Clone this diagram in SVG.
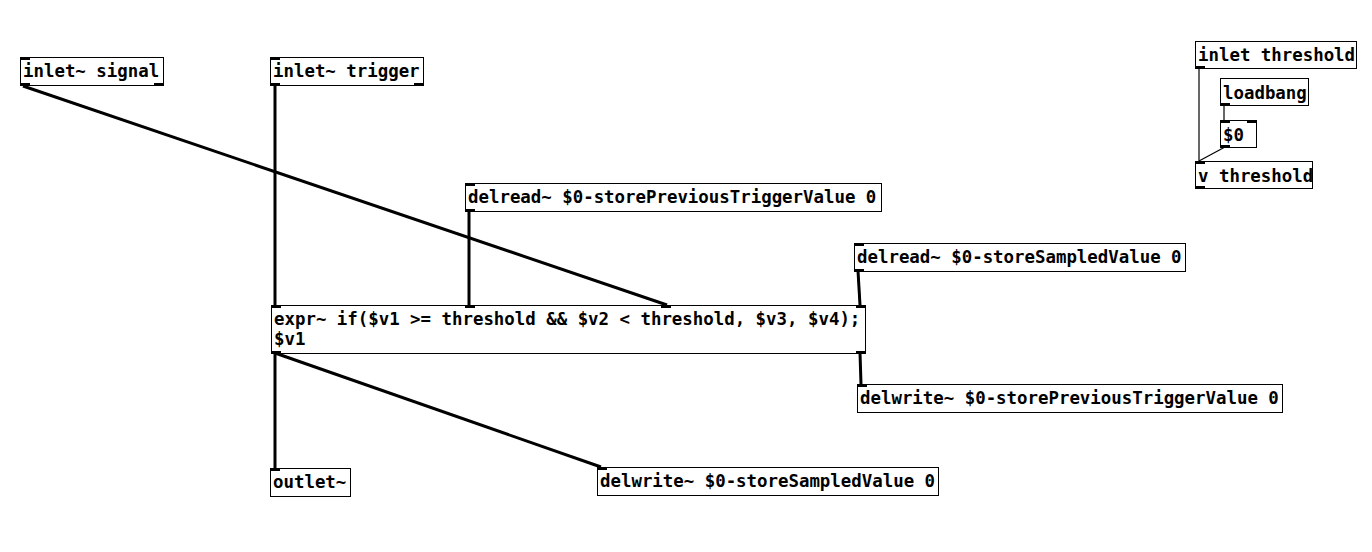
<svg xmlns="http://www.w3.org/2000/svg" width="1372" height="552" viewBox="0 0 1372 552">
<style>
.box{fill:#fff;stroke:#000;stroke-width:1}
.t{font-family:"DejaVu Sans Mono",monospace;font-weight:bold;font-size:17.4px;fill:#000}
.io{fill:#000}
.sig{stroke:#000;stroke-width:3;fill:none}
.ctl{stroke:#000;stroke-width:1.2;fill:none}
</style>
<rect width="1372" height="552" fill="#fff"/>
<g id="connectors">
<line class="sig" x1="23" y1="86" x2="667" y2="305"/>
<line class="sig" x1="275" y1="86" x2="275" y2="305"/>
<line class="sig" x1="469" y1="211" x2="469" y2="305"/>
<line class="sig" x1="858" y1="271" x2="860" y2="305"/>
<line class="sig" x1="275" y1="353" x2="275" y2="468"/>
<line class="sig" x1="275" y1="353" x2="601" y2="467"/>
<line class="sig" x1="860" y1="353" x2="861" y2="384"/>
<line class="ctl" x1="1199" y1="68" x2="1199" y2="161"/>
<line class="ctl" x1="1224" y1="105" x2="1224" y2="120"/>
<line class="ctl" x1="1225" y1="147" x2="1199" y2="161"/>
</g>
<g id="inlet_signal">
<rect class="box" x="20.5" y="57.5" width="143" height="28"/>
<rect class="io" x="20" y="57" width="10" height="3"/>
<rect class="io" x="20" y="83" width="10" height="3"/>
<rect class="io" x="154" y="83" width="10" height="3"/>
<text class="t" x="23" y="77">inlet~ signal</text>
</g>
<g id="inlet_trigger">
<rect class="box" x="270.5" y="57.5" width="153" height="28"/>
<rect class="io" x="270" y="57" width="10" height="3"/>
<rect class="io" x="270" y="83" width="10" height="3"/>
<rect class="io" x="414" y="83" width="10" height="3"/>
<text class="t" x="273" y="77">inlet~ trigger</text>
</g>
<g id="inlet_threshold">
<rect class="box" x="1195.5" y="41.5" width="161" height="27"/>
<rect class="io" x="1195" y="66" width="10" height="3"/>
<text class="t" x="1198" y="61">inlet threshold</text>
</g>
<g id="loadbang">
<rect class="box" x="1220.5" y="78.5" width="88" height="27"/>
<rect class="io" x="1220" y="103" width="10" height="3"/>
<text class="t" x="1223" y="99">loadbang</text>
</g>
<g id="dollar0">
<rect class="box" x="1220.5" y="120.5" width="36" height="27"/>
<rect class="io" x="1220" y="120" width="10" height="3"/>
<rect class="io" x="1247" y="120" width="10" height="3"/>
<rect class="io" x="1220" y="145" width="10" height="3"/>
<text class="t" x="1223" y="141">$0</text>
</g>
<g id="v_threshold">
<rect class="box" x="1195.5" y="161.5" width="117" height="27"/>
<rect class="io" x="1195" y="161" width="10" height="3"/>
<rect class="io" x="1195" y="186" width="10" height="3"/>
<text class="t" x="1198" y="182">v threshold</text>
</g>
<g id="delread_prev">
<rect class="box" x="465.5" y="183.5" width="416" height="28"/>
<rect class="io" x="465" y="183" width="10" height="3"/>
<rect class="io" x="465" y="209" width="10" height="3"/>
<text class="t" x="468" y="203">delread~ $0-storePreviousTriggerValue 0</text>
</g>
<g id="delread_sampled">
<rect class="box" x="854.5" y="243.5" width="331" height="28"/>
<rect class="io" x="854" y="243" width="10" height="3"/>
<rect class="io" x="854" y="269" width="10" height="3"/>
<text class="t" x="857" y="263">delread~ $0-storeSampledValue 0</text>
</g>
<g id="expr">
<rect class="box" x="271.5" y="305.5" width="594" height="48"/>
<rect class="io" x="271" y="305" width="10" height="3"/>
<rect class="io" x="465" y="305" width="10" height="3"/>
<rect class="io" x="661" y="305" width="10" height="3"/>
<rect class="io" x="856" y="305" width="10" height="3"/>
<rect class="io" x="271" y="351" width="10" height="3"/>
<rect class="io" x="856" y="351" width="10" height="3"/>
<text class="t" x="274" y="325">expr~ if($v1 &gt;= threshold &amp;&amp; $v2 &lt; threshold, $v3, $v4);</text>
<text class="t" x="274" y="345">$v1</text>
</g>
<g id="delwrite_prev">
<rect class="box" x="857.5" y="384.5" width="425" height="28"/>
<rect class="io" x="857" y="384" width="10" height="3"/>
<text class="t" x="860" y="404">delwrite~ $0-storePreviousTriggerValue 0</text>
</g>
<g id="outlet">
<rect class="box" x="270.5" y="468.5" width="80" height="28"/>
<rect class="io" x="270" y="468" width="10" height="3"/>
<text class="t" x="273" y="488">outlet~</text>
</g>
<g id="delwrite_sampled">
<rect class="box" x="597.5" y="467.5" width="341" height="28"/>
<rect class="io" x="597" y="467" width="10" height="3"/>
<text class="t" x="600" y="487">delwrite~ $0-storeSampledValue 0</text>
</g>
</svg>
